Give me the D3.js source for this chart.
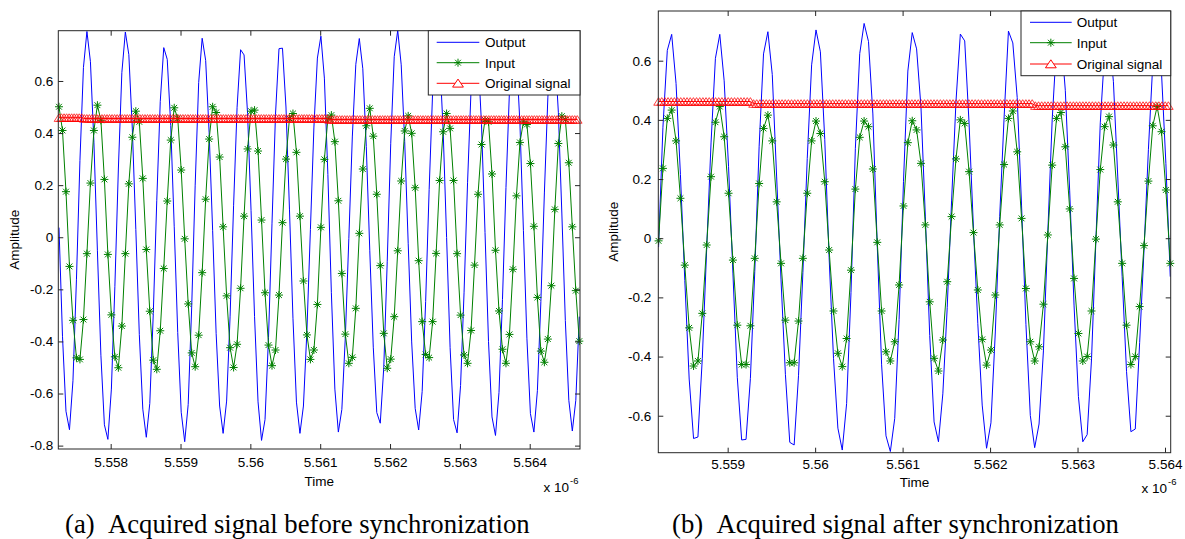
<!DOCTYPE html>
<html><head><meta charset="utf-8">
<script src="https://cdn.jsdelivr.net/npm/d3@7"></script>
<style>
body{margin:0;background:#fff;}
svg{display:block;}
</style></head>
<body><svg id="c" width="1185" height="539"></svg>
<script>
// ---------- DATA (time in units of 1e-6 s) ----------
const sampleStep = 0.00005;      // Output / Input sampling step
const origStep = 0.0000362;      // Original signal sampling step
const leftStart = 5.55726;       // first sample time, panel (a)
const rightStart = 5.55821;      // first sample time, panel (b)

const leftOutput = [
0.037,-0.38,-0.668,-0.739,-0.551,-0.161,0.295,0.652,0.79,0.674,
0.365,-0.052,-0.453,-0.72,-0.776,-0.583,-0.19,0.262,0.632,0.788,
0.701,0.416,0.03,-0.374,-0.66,-0.768,-0.638,-0.293,0.142,0.521,
0.728,0.683,0.429,0.04,-0.366,-0.672,-0.785,-0.642,-0.268,0.2,
0.594,0.764,0.679,0.401,0.025,-0.369,-0.648,-0.753,-0.629,-0.303,
0.123,0.499,0.72,0.7,0.475,0.102,-0.305,-0.632,-0.78,-0.7,
-0.384,0.054,0.472,0.724,0.726,0.5,0.108,-0.311,-0.633,-0.753,
-0.648,-0.358,0.03,0.423,0.688,0.772,0.611,0.241,-0.213,-0.583,
-0.748,-0.661,-0.383,-0.005,0.385,0.664,0.763,0.647,0.349,-0.052,
-0.422,-0.673,-0.714,-0.501,-0.092,0.361,0.693,0.794,0.662,0.368,
-0.023,-0.402,-0.657,-0.74,-0.592,-0.247,0.183,0.558,0.749,0.698,
0.414,-0.001,-0.424,-0.7,-0.751,-0.569,-0.211,0.209,0.567,0.749,
0.7,0.432,0.018,-0.4,-0.69,-0.761,-0.596,-0.239,0.191,0.562,
0.749,0.7,0.435,0.025,-0.39,-0.677,-0.748,-0.589,-0.246,0.17,
0.538,0.741,0.718,0.48,0.093,-0.32,-0.626,-0.744,-0.626,-0.305];

const leftInput = [
0.501,0.41,0.175,-0.112,-0.319,-0.463,-0.469,-0.316,-0.063,0.208,
0.41,0.507,0.449,0.222,-0.066,-0.298,-0.459,-0.501,-0.341,-0.063,
0.205,0.384,0.484,0.443,0.226,-0.047,-0.284,-0.472,-0.507,-0.359,
-0.12,0.139,0.373,0.497,0.456,0.258,-0.006,-0.256,-0.444,-0.497,
-0.376,-0.136,0.146,0.377,0.501,0.479,0.308,0.04,-0.225,-0.424,
-0.5,-0.411,-0.196,0.081,0.339,0.484,0.488,0.331,0.066,-0.213,
-0.414,-0.493,-0.433,-0.222,0.056,0.3,0.456,0.475,0.326,0.081,
-0.168,-0.375,-0.469,-0.433,-0.258,0.038,0.299,0.456,0.469,0.367,
0.14,-0.139,-0.372,-0.484,-0.461,-0.273,0.015,0.262,0.428,0.495,
0.388,0.165,-0.109,-0.369,-0.503,-0.468,-0.305,-0.052,0.216,0.408,
0.466,0.399,0.19,-0.09,-0.324,-0.45,-0.462,-0.324,-0.062,0.218,
0.405,0.475,0.418,0.218,-0.063,-0.299,-0.452,-0.484,-0.358,-0.107,
0.165,0.356,0.45,0.443,0.243,-0.05,-0.283,-0.43,-0.484,-0.373,
-0.123,0.159,0.364,0.443,0.433,0.283,0.042,-0.231,-0.437,-0.48,
-0.391,-0.186,0.107,0.36,0.465,0.452,0.286,0.04,-0.205,-0.399];

const leftOriginal = [
0.459,0.459,0.459,0.459,0.459,0.459,0.459,0.459,0.459,0.459,
0.456,0.456,0.456,0.456,0.456,0.456,0.456,0.456,0.456,0.456,
0.456,0.456,0.456,0.456,0.456,0.456,0.456,0.456,0.456,0.456,
0.456,0.456,0.456,0.456,0.456,0.456,0.456,0.456,0.456,0.456,
0.456,0.456,0.456,0.456,0.456,0.456,0.456,0.456,0.456,0.456,
0.456,0.456,0.456,0.456,0.456,0.456,0.456,0.456,0.456,0.456,
0.456,0.456,0.456,0.456,0.456,0.456,0.456,0.456,0.456,0.456,
0.456,0.456,0.456,0.456,0.456,0.456,0.456,0.456,0.456,0.456,
0.456,0.456,0.456,0.456,0.456,0.456,0.456,0.456,0.456,0.456,
0.456,0.456,0.456,0.456,0.456,0.456,0.456,0.456,0.456,0.456,
0.456,0.456,0.456,0.456,0.456,0.456,0.456,0.452,0.452,0.452,
0.452,0.452,0.452,0.452,0.452,0.452,0.452,0.452,0.452,0.452,
0.452,0.452,0.452,0.452,0.452,0.452,0.452,0.452,0.452,0.452,
0.452,0.452,0.452,0.452,0.452,0.452,0.452,0.452,0.452,0.452,
0.452,0.452,0.452,0.452,0.452,0.452,0.452,0.452,0.452,0.452,
0.452,0.452,0.452,0.452,0.452,0.452,0.452,0.452,0.452,0.452,
0.452,0.452,0.452,0.452,0.452,0.452,0.452,0.452,0.452,0.452,
0.452,0.452,0.452,0.452,0.452,0.452,0.452,0.452,0.452,0.452,
0.452,0.452,0.452,0.452,0.452,0.452,0.452,0.452,0.452,0.452,
0.452,0.452,0.452,0.452,0.452,0.452,0.452,0.452,0.452,0.452,
0.452,0.452,0.452,0.452,0.452,0.452];

const rightOutput = [
-0.03,0.375,0.635,0.689,0.523,0.215,-0.143,-0.476,-0.677,-0.672,
-0.406,-0.037,0.322,0.608,0.689,0.532,0.243,-0.118,-0.47,-0.682,
-0.68,-0.474,-0.112,0.311,0.623,0.698,0.553,0.207,-0.141,-0.46,
-0.69,-0.699,-0.465,-0.116,0.27,0.586,0.704,0.63,0.334,-0.066,
-0.406,-0.642,-0.716,-0.559,-0.184,0.304,0.624,0.726,0.665,0.42,
-0.024,-0.428,-0.668,-0.721,-0.609,-0.275,0.191,0.565,0.695,0.64,
0.443,0.072,-0.329,-0.621,-0.688,-0.526,-0.235,0.126,0.461,0.69,
0.667,0.387,0.032,-0.289,-0.564,-0.71,-0.624,-0.317,0.073,0.406,
0.7,0.66,0.476,0.109,-0.291,-0.599,-0.708,-0.628,-0.381,0.018,
0.4,0.656,0.69,0.5,0.16,-0.226,-0.535,-0.688,-0.664,-0.408,
-0.005,0.39,0.633,0.69,0.529,0.207,-0.13,-0.45,-0.654,-0.645,
-0.353,-0.039,0.299,0.589,0.69,0.558,0.253,-0.13];

const rightInput = [
-0.009,0.236,0.405,0.433,0.329,0.135,-0.091,-0.303,-0.432,-0.415,
-0.254,-0.023,0.208,0.392,0.445,0.343,0.152,-0.074,-0.294,-0.427,
-0.427,-0.296,-0.068,0.185,0.371,0.416,0.329,0.123,-0.085,-0.277,
-0.421,-0.421,-0.28,-0.068,0.152,0.329,0.396,0.354,0.191,-0.04,
-0.246,-0.389,-0.434,-0.339,-0.108,0.166,0.341,0.396,0.377,0.234,
-0.014,-0.246,-0.384,-0.415,-0.35,-0.158,0.109,0.323,0.397,0.366,
0.253,0.045,-0.215,-0.406,-0.449,-0.344,-0.147,0.073,0.268,0.4,
0.388,0.225,0.019,-0.175,-0.342,-0.429,-0.378,-0.192,0.045,0.249,
0.405,0.43,0.292,0.067,-0.17,-0.35,-0.415,-0.367,-0.223,0.011,
0.247,0.405,0.425,0.309,0.099,-0.136,-0.322,-0.415,-0.4,-0.246,
-0.003,0.232,0.377,0.411,0.315,0.123,-0.085,-0.294,-0.427,-0.4,
-0.231,-0.025,0.193,0.38,0.445,0.36,0.163,-0.085];

const rightOriginal = [
0.462,0.462,0.462,0.462,0.462,0.462,0.462,0.462,0.462,0.462,
0.462,0.462,0.462,0.462,0.462,0.462,0.462,0.462,0.462,0.462,
0.462,0.462,0.462,0.462,0.462,0.462,0.462,0.462,0.462,0.462,
0.455,0.455,0.455,0.455,0.455,0.455,0.455,0.455,0.455,0.455,
0.455,0.455,0.455,0.455,0.455,0.455,0.455,0.455,0.455,0.455,
0.455,0.455,0.455,0.455,0.455,0.455,0.455,0.455,0.455,0.455,
0.455,0.455,0.455,0.455,0.455,0.455,0.455,0.455,0.455,0.455,
0.455,0.455,0.455,0.455,0.455,0.455,0.455,0.455,0.455,0.455,
0.455,0.455,0.455,0.455,0.455,0.455,0.455,0.455,0.455,0.455,
0.455,0.455,0.455,0.455,0.455,0.455,0.455,0.455,0.455,0.455,
0.455,0.455,0.455,0.455,0.455,0.455,0.455,0.455,0.455,0.455,
0.455,0.455,0.455,0.455,0.455,0.455,0.455,0.455,0.455,0.448,
0.448,0.448,0.448,0.448,0.448,0.448,0.448,0.448,0.448,0.448,
0.448,0.448,0.448,0.448,0.448,0.448,0.448,0.448,0.448,0.448,
0.448,0.448,0.448,0.448,0.448,0.448,0.448,0.448,0.448,0.448,
0.448,0.448,0.448,0.448,0.448,0.448,0.448,0.448,0.448,0.448,
0.448,0.448];

const leftXTicks = [5.558, 5.559, 5.56, 5.561, 5.562, 5.563, 5.564];
const rightXTicks = [5.559, 5.56, 5.561, 5.562, 5.563, 5.564];
const leftYTicks = [-0.8, -0.6, -0.4, -0.2, 0, 0.2, 0.4, 0.6];
const rightYTicks = [-0.6, -0.4, -0.2, 0, 0.2, 0.4, 0.6];
const seriesNames = ["Output", "Input", "Original signal"];
const xLabel = "Time";
const yLabel = "Amplitude";
const captions = ["(a)\u00a0\u00a0Acquired signal before synchronization",
                  "(b)\u00a0\u00a0Acquired signal after synchronization"];

// ---------- DRAWING ----------
const svg = d3.select("#c");
const SANS = "'Liberation Sans', Arial, sans-serif";
const SERIF = "'Liberation Serif', 'Times New Roman', serif";
const FS = 13.5;
const COL = {out: "#0000ff", inp: "#008000", orig: "#ff0000", axis: "#262626"};
const starPath = "M-4,0H4M0,-4V4M-2.9,-2.9L2.9,2.9M-2.9,2.9L2.9,-2.9";
const triPath = "M0,-3.9L4.8,3.7L-4.8,3.7Z";

function panel(cfg, idx) {
  const g = svg.append("g");
  const x = d3.scaleLinear().domain(cfg.xDomain).range([cfg.x0, cfg.x1]);
  const y = d3.scaleLinear().domain(cfg.yDomain).range([cfg.y1, cfg.y0]);
  const clipId = "clip" + idx;
  svg.append("clipPath").attr("id", clipId).append("rect")
    .attr("x", cfg.x0).attr("y", cfg.y0).attr("width", cfg.x1 - cfg.x0).attr("height", cfg.y1 - cfg.y0);

  const tOut = cfg.output.map((_, i) => cfg.start + i * sampleStep);
  const tOrig = cfg.original.map((_, i) => cfg.start + i * origStep);

  const line = d3.line();
  // Output
  g.append("path").attr("clip-path", `url(#${clipId})`)
    .attr("d", line(cfg.output.map((v, i) => [x(tOut[i]), y(v)])))
    .attr("fill", "none").attr("stroke", COL.out).attr("stroke-width", 1);
  // Input
  g.append("path").attr("clip-path", `url(#${clipId})`)
    .attr("d", line(cfg.input.map((v, i) => [x(tOut[i]), y(v)])))
    .attr("fill", "none").attr("stroke", COL.inp).attr("stroke-width", 1);
  g.append("g").selectAll("path").data(cfg.input).join("path")
    .attr("d", starPath)
    .attr("transform", (v, i) => `translate(${x(tOut[i])},${y(v)})`)
    .attr("fill", "none").attr("stroke", COL.inp).attr("stroke-width", 1);
  // Original
  g.append("path").attr("clip-path", `url(#${clipId})`)
    .attr("d", line(cfg.original.map((v, i) => [x(tOrig[i]), y(v)])))
    .attr("fill", "none").attr("stroke", COL.orig).attr("stroke-width", 1);
  g.append("g").selectAll("path").data(cfg.original).join("path")
    .attr("d", triPath)
    .attr("transform", (v, i) => `translate(${x(tOrig[i])},${y(v)})`)
    .attr("fill", "none").attr("stroke", COL.orig).attr("stroke-width", 0.75);

  // Axes (inward ticks on all four sides)
  const styleAxis = a => {
    a.select(".domain").remove();
    a.selectAll("line").attr("stroke", COL.axis);
    a.selectAll("text").attr("font-family", SANS).attr("font-size", FS).attr("fill", "#000");
  };
  g.append("g").attr("transform", `translate(0,${cfg.y1})`)
    .call(d3.axisBottom(x).tickValues(cfg.xTicks).tickSize(-5).tickPadding(cfg.xPad).tickFormat(d => String(d)))
    .call(styleAxis);
  g.append("g").attr("transform", `translate(0,${cfg.y0})`)
    .call(d3.axisTop(x).tickValues(cfg.xTicks).tickSize(-5).tickFormat(""))
    .call(styleAxis);
  g.append("g").attr("transform", `translate(${cfg.x0},0)`)
    .call(d3.axisLeft(y).tickValues(cfg.yTicks).tickSize(-5).tickPadding(cfg.yPad).tickFormat(d => String(d)))
    .call(styleAxis);
  g.append("g").attr("transform", `translate(${cfg.x1},0)`)
    .call(d3.axisRight(y).tickValues(cfg.yTicks).tickSize(-5).tickFormat(""))
    .call(styleAxis);
  g.append("rect").attr("x", cfg.x0).attr("y", cfg.y0)
    .attr("width", cfg.x1 - cfg.x0).attr("height", cfg.y1 - cfg.y0)
    .attr("fill", "none").attr("stroke", COL.axis).attr("stroke-width", 1);

  // Labels
  g.append("text").attr("x", (cfg.x0 + cfg.x1) / 2).attr("y", cfg.timeY)
    .attr("text-anchor", "middle").attr("font-family", SANS).attr("font-size", FS).text(xLabel);
  g.append("text").attr("transform", `translate(${cfg.ampX},${(cfg.y0 + cfg.y1) / 2}) rotate(-90)`)
    .attr("text-anchor", "middle").attr("font-family", SANS).attr("font-size", FS).text(yLabel);
  g.append("text").attr("x", cfg.expX).attr("y", cfg.expY)
    .attr("font-family", SANS).attr("font-size", FS).text("x 10");
  g.append("text").attr("x", cfg.expX + 26.5).attr("y", cfg.expY - 8)
    .attr("font-family", SANS).attr("font-size", 9.5).text("-6");

  // Legend
  const L = cfg.legend;
  g.append("rect").attr("x", L.x).attr("y", cfg.y0).attr("width", cfg.x1 - L.x).attr("height", L.h)
    .attr("fill", "#fff").attr("stroke", COL.axis).attr("stroke-width", 1);
  const colors = [COL.out, COL.inp, COL.orig];
  seriesNames.forEach((name, k) => {
    const ly = L.rows[k];
    g.append("line").attr("x1", L.lx0).attr("x2", L.lx1).attr("y1", ly).attr("y2", ly)
      .attr("stroke", colors[k]).attr("stroke-width", 1);
    const mx = (L.lx0 + L.lx1) / 2;
    if (k === 1) g.append("path").attr("d", starPath).attr("transform", `translate(${mx},${ly})`)
      .attr("fill", "none").attr("stroke", COL.inp);
    if (k === 2) g.append("path").attr("d", "M0,-4.2L5.4,3.8L-5.4,3.8Z").attr("transform", `translate(${mx},${ly})`)
      .attr("fill", "#fff").attr("stroke", COL.orig);
    g.append("text").attr("x", L.tx).attr("y", ly + 5)
      .attr("font-family", SANS).attr("font-size", FS).text(name);
  });

  // Caption
  svg.append("text").attr("x", cfg.capX).attr("y", 533)
    .attr("font-family", SERIF).attr("font-size", 26.7).attr("fill", "#000").text(cfg.caption);
}

panel({
  x0: 58.3, x1: 580, y0: 30.7, y1: 449,
  xDomain: [5.55725, 5.56472], yDomain: [-0.813, 0.793],
  start: leftStart, output: leftOutput, input: leftInput, original: leftOriginal,
  xTicks: leftXTicks, yTicks: leftYTicks, xPad: 8.4, yPad: 5,
  timeY: 486, ampX: 18.5, expX: 543.5, expY: 492,
  legend: {x: 428.3, h: 64.3, rows: [42.3, 62.7, 83.3], lx0: 436.7, lx1: 479.3, tx: 485},
  capX: 65, caption: captions[0]
}, 0);

panel({
  x0: 658.3, x1: 1170.7, y0: 11, y1: 452.7,
  xDomain: [5.558207, 5.564065], yDomain: [-0.725, 0.768],
  start: rightStart, output: rightOutput, input: rightInput, original: rightOriginal,
  xTicks: rightXTicks, yTicks: rightYTicks, xPad: 6.7, yPad: 7,
  timeY: 487, ampX: 618, expX: 1141.5, expY: 493,
  legend: {x: 1021, h: 64.7, rows: [22.3, 42.7, 64], lx0: 1030, lx1: 1071.7, tx: 1076.7},
  capX: 672, caption: captions[1]
}, 1);
</script>
</body></html>
